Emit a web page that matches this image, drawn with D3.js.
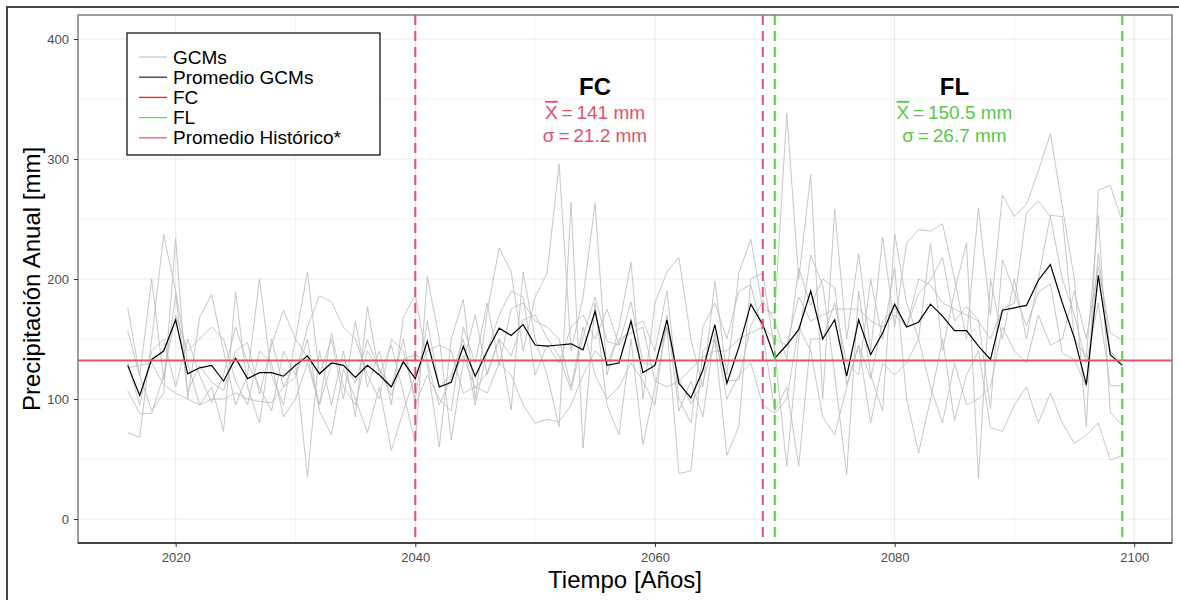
<!DOCTYPE html>
<html>
<head>
<meta charset="utf-8">
<script src="https://cdn.jsdelivr.net/npm/d3@7"></script>
<style>
  html, body { margin: 0; padding: 0; background: #fff; }
  svg { display: block; font-family: "Liberation Sans", Arial, sans-serif; }
</style>
</head>
<body>
<svg id="chart" width="1179" height="600"></svg>
<script>
// Years of the projection
const years = d3.range(2016, 2100);

// Individual GCM annual precipitation [mm]
const gcm1 = [176,120,90,105,234,100,168,187,140,95,120,200,120,95,150,206,120,150,100,165,110,140,95,168,187,
  130,60,150,183,100,173,226,206,140,185,205,296,140,185,263,120,160,214,100,180,206,218,150,110,198,120,205,233,175,
  171,338,200,287,100,258,150,221,140,235,160,230,241,240,246,200,150,259,170,270,252,262,290,321,260,200,77,274,278,248];
const gcm2 = [72,68,150,237,190,130,95,110,73,189,110,80,150,110,130,35,140,95,140,85,177,120,145,105,63,
  202,150,66,130,170,120,150,91,206,150,120,77,264,59,180,95,70,150,62,110,160,38,40,140,150,53,77,200,205,
  140,44,150,220,195,120,37,190,120,90,238,180,150,230,140,190,230,34,200,150,200,150,200,253,252,150,135,253,89,78];
const gcm3 = [130,95,140,150,110,150,120,97,120,160,130,110,90,140,120,160,186,181,160,150,120,100,150,140,100,
  165,110,120,150,95,140,170,190,185,120,145,130,160,170,150,175,145,160,165,140,190,100,80,160,180,150,190,195,155,
  90,110,44,150,150,180,130,120,200,150,210,100,55,100,150,82,120,140,76,73,95,110,80,105,80,63,70,80,49,53];
const gcm4 = [126,128,130,112,105,100,95,100,100,105,100,98,97,110,118,150,90,70,125,100,72,110,57,90,120,
  140,145,140,105,110,105,130,120,95,80,83,81,95,120,140,130,150,155,160,115,110,115,125,135,140,140,150,155,160,
  150,145,185,165,170,175,175,175,165,160,170,160,200,195,180,175,170,165,150,175,180,255,265,252,200,170,130,180,111,111];
const gcm5 = [107,88,88,120,170,140,150,160,150,115,95,140,130,85,100,130,95,155,110,95,140,125,110,150,95,
  120,100,90,160,130,180,128,175,180,165,160,150,110,160,120,100,110,130,115,95,170,90,115,85,155,100,120,130,95,
  88,100,160,140,85,70,110,145,80,130,120,130,150,110,80,130,95,100,110,160,140,130,170,145,150,190,150,210,155,149];
const gcm6 = [157,119,200,116,187,106,128,114,107,140,147,104,145,174,150,135,95,129,133,113,149,125,103,133,137,
  131,95,118,136,109,122,150,136,166,170,151,136,107,152,185,148,145,181,130,128,160,117,96,114,149,115,116,161,182,
  165,133,209,178,200,193,112,145,117,165,176,160,188,199,218,165,177,166,92,216,189,161,189,196,138,133,110,221,140,129];
const gcms = [gcm1, gcm2, gcm3, gcm4, gcm5, gcm6];

// Ensemble mean of the GCMs [mm]
const meanGCM = [128,103,133,140,166,121,126,128,115,134,117,122,122,119,128,136,121,130,128,118,128,120,110,131,117,
  148,110,114,144,119,140,159,153,162,145,144,145,146,141,173,128,130,165,122,128,166,113,101,124,162,113,143,179,162,
  134,145,158,190,150,166,119,166,137,155,179,160,164,179,169,157,157,144,133,174,176,178,199,212,180,151,112,203,137,128];

// Historical mean, period limits and period statistics
const historicalMean = 132;
const fcYears = [2040, 2069];
const flYears = [2070, 2099];
const periodLabels = [
  { name: "FC", year: 2055, mean: "141", sd: "21.2", color: "#E2526D" },
  { name: "FL", year: 2085, mean: "150.5", sd: "26.7", color: "#55CB45" }
];

const xTicks = [2020, 2040, 2060, 2080, 2100];
const yTicks = [0, 100, 200, 300, 400];

const legendItems = [
  { label: "GCMs", color: "#C8C8C8" },
  { label: "Promedio GCMs", color: "#333333" },
  { label: "FC", color: "#FF1A1A" },
  { label: "FL", color: "#44EE44" },
  { label: "Promedio Histórico*", color: "#FF5A5A" }
];

const svg = d3.select("#chart");
const panel = { left: 78, right: 1172, top: 15, bottom: 543 };

const x = d3.scaleLinear().domain([2011.85, 2103.15]).range([panel.left, panel.right]);
const y = d3.scaleLinear().domain([-20, 420]).range([panel.bottom, panel.top]);

// outer frame of the figure
svg.append("path")
  .attr("d", "M7,600 L7,7 L1179,7")
  .attr("fill", "none").attr("stroke", "#444").attr("stroke-width", 2);

// panel background + grid
svg.append("rect").attr("x", panel.left).attr("y", panel.top)
  .attr("width", panel.right - panel.left).attr("height", panel.bottom - panel.top).attr("fill", "#fff");

const grid = svg.append("g").attr("stroke", "#EBEBEB");
d3.range(2020, 2101, 10).forEach(v => {
  grid.append("line").attr("x1", x(v)).attr("x2", x(v)).attr("y1", panel.top).attr("y2", panel.bottom)
    .attr("stroke-width", v % 20 === 0 ? 1.1 : 0.6);
});
d3.range(0, 401, 50).forEach(v => {
  grid.append("line").attr("x1", panel.left).attr("x2", panel.right).attr("y1", y(v)).attr("y2", y(v))
    .attr("stroke-width", v % 100 === 0 ? 1.1 : 0.6);
});

const line = d3.line().x((d, i) => x(years[i])).y(d => y(d));

// individual GCM series
svg.append("g").selectAll("path").data(gcms).join("path")
  .attr("d", line).attr("fill", "none").attr("stroke", "#BDBDBD").attr("stroke-width", 1).attr("opacity", 0.85);

// ensemble mean
svg.append("path").attr("d", line(meanGCM)).attr("fill", "none")
  .attr("stroke", "#000").attr("stroke-width", 1.2);

// historical mean
svg.append("line").attr("x1", panel.left).attr("x2", panel.right)
  .attr("y1", y(historicalMean)).attr("y2", y(historicalMean))
  .attr("stroke", "#E2526D").attr("stroke-width", 2);

// period limits
const limits = [
  ...fcYears.map(v => ({ v, c: "#E2526D" })),
  ...flYears.map(v => ({ v, c: "#55CB45" }))
];
svg.append("g").selectAll("line").data(limits).join("line")
  .attr("x1", d => x(d.v)).attr("x2", d => x(d.v))
  .attr("y1", panel.top).attr("y2", panel.bottom)
  .attr("stroke", d => d.c).attr("stroke-width", 2).attr("stroke-dasharray", "10,6");

// period annotations
periodLabels.forEach(p => {
  const g = svg.append("g").attr("text-anchor", "middle");
  g.append("text").attr("x", x(p.year)).attr("y", y(360)).attr("dy", "0.35em")
    .attr("font-size", 24).attr("font-weight", "bold").attr("fill", "#000").text(p.name);
  const t1 = g.append("text").attr("x", x(p.year)).attr("y", y(339)).attr("dy", "0.35em")
    .attr("font-size", 19).attr("fill", p.color);
  t1.append("tspan").attr("text-decoration", "overline").text("X");
  t1.append("tspan").text("\u2009=\u2009" + p.mean + " mm");
  g.append("text").attr("x", x(p.year)).attr("y", y(320)).attr("dy", "0.35em")
    .attr("font-size", 19).attr("fill", p.color).text("σ\u2009=\u2009" + p.sd + " mm");
});

// panel border
svg.append("rect").attr("x", panel.left).attr("y", panel.top)
  .attr("width", panel.right - panel.left).attr("height", panel.bottom - panel.top)
  .attr("fill", "none").attr("stroke", "#7F7F7F").attr("stroke-width", 1.5);
svg.append("line").attr("x1", panel.left).attr("x2", panel.right)
  .attr("y1", panel.bottom).attr("y2", panel.bottom).attr("stroke", "#222").attr("stroke-width", 1.5);

// axes
const xAxis = svg.append("g").attr("transform", `translate(0,${panel.bottom})`)
  .call(d3.axisBottom(x).tickValues(xTicks).tickFormat(d3.format("d")).tickSize(4).tickPadding(6));
const yAxis = svg.append("g").attr("transform", `translate(${panel.left},0)`)
  .call(d3.axisLeft(y).tickValues(yTicks).tickSize(4).tickPadding(5));
[xAxis, yAxis].forEach(a => {
  a.select(".domain").remove();
  a.selectAll(".tick line").attr("stroke", "#333");
  a.selectAll(".tick text").attr("fill", "#4D4D4D").attr("font-size", 13)
    .attr("font-family", "Liberation Sans, Arial, sans-serif");
});

// axis titles
svg.append("text").attr("x", (panel.left + panel.right) / 2).attr("y", 580).attr("dy", "0.35em")
  .attr("text-anchor", "middle").attr("font-size", 24).attr("fill", "#000").text("Tiempo [Años]");
svg.append("text").attr("transform", `translate(32,${(panel.top + panel.bottom) / 2}) rotate(-90)`)
  .attr("dy", "0.35em").attr("text-anchor", "middle").attr("font-size", 24).attr("fill", "#000")
  .text("Precipitación Anual [mm]");

// legend
const lg = svg.append("g");
lg.append("rect").attr("x", 127).attr("y", 33).attr("width", 253).attr("height", 122)
  .attr("fill", "#fff").attr("stroke", "#000").attr("stroke-width", 1.2);
legendItems.forEach((d, i) => {
  const cy = 57 + i * 20.2;
  lg.append("line").attr("x1", 139).attr("x2", 167).attr("y1", cy).attr("y2", cy)
    .attr("stroke", d.color).attr("stroke-width", 1.3);
  lg.append("text").attr("x", 173).attr("y", cy).attr("dy", "0.35em")
    .attr("font-size", 19).attr("fill", "#000").text(d.label);
});
</script>
</body>
</html>
